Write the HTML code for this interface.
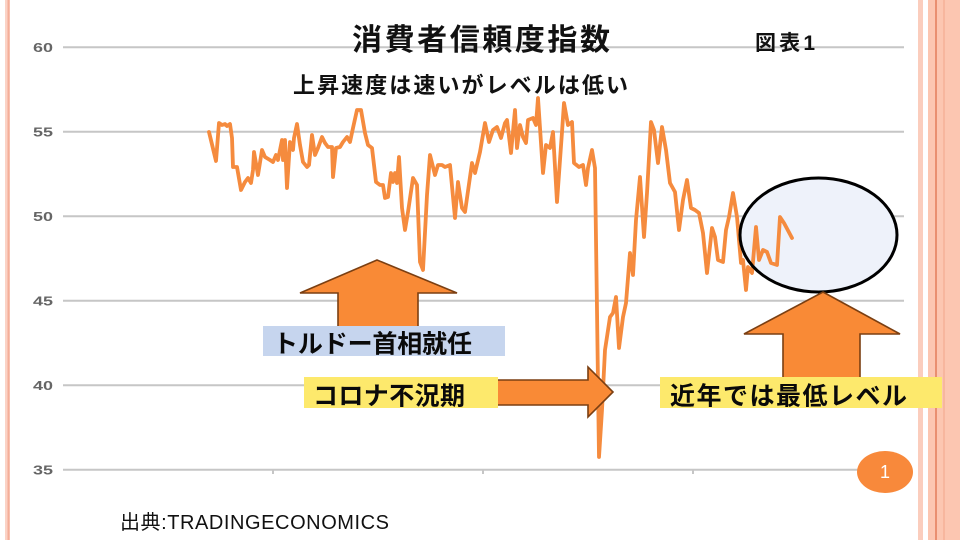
<!DOCTYPE html>
<html>
<head>
<meta charset="utf-8">
<style>
html,body{margin:0;padding:0;background:#fff;}
body{width:960px;height:540px;overflow:hidden;}
svg{display:block;}
</style>
</head>
<body>
<svg width="960" height="540" viewBox="0 0 960 540" xmlns="http://www.w3.org/2000/svg">
<defs>
<clipPath id="c1"><rect x="263" y="326" width="242" height="30"/></clipPath>
<clipPath id="c2"><rect x="304" y="377" width="194" height="31"/></clipPath>
<clipPath id="c3"><rect x="660" y="377" width="282" height="31"/></clipPath>
</defs>
<rect x="0" y="0" width="960" height="540" fill="#fff"/>
<!-- left border -->
<rect x="5" y="0" width="5" height="540" fill="#fbd3c6"/>
<rect x="7.5" y="0" width="2" height="540" fill="#f4ae98"/>
<!-- right strips -->
<rect x="918" y="0" width="5" height="540" fill="#fbcdbd"/>
<rect x="928" y="0" width="32" height="540" fill="#fcc6b1"/>
<rect x="935" y="0" width="2" height="540" fill="#e98f70"/>
<rect x="943" y="0" width="2" height="540" fill="#f7b69e"/>

<!-- gridlines -->
<g stroke="#c6c6c6" stroke-width="2">
<line x1="63" y1="47.3" x2="904" y2="47.3"/>
<line x1="63" y1="131.8" x2="904" y2="131.8"/>
<line x1="63" y1="216.3" x2="904" y2="216.3"/>
<line x1="63" y1="300.8" x2="904" y2="300.8"/>
<line x1="63" y1="385.3" x2="904" y2="385.3"/>
<line x1="63" y1="469.8" x2="904" y2="469.8"/>
<line x1="273" y1="470" x2="273" y2="474"/>
<line x1="483" y1="470" x2="483" y2="474"/>
<line x1="693" y1="470" x2="693" y2="474"/>
</g>
<!-- y labels -->
<g font-family="Liberation Sans, Arial, sans-serif" font-weight="bold" font-size="13" fill="#666" text-anchor="end">
<text x="53" y="52" textLength="20" lengthAdjust="spacingAndGlyphs">60</text>
<text x="53" y="136.5" textLength="20" lengthAdjust="spacingAndGlyphs">55</text>
<text x="53" y="221" textLength="20" lengthAdjust="spacingAndGlyphs">50</text>
<text x="53" y="305.5" textLength="20" lengthAdjust="spacingAndGlyphs">45</text>
<text x="53" y="390" textLength="20" lengthAdjust="spacingAndGlyphs">40</text>
<text x="53" y="474.5" textLength="20" lengthAdjust="spacingAndGlyphs">35</text>
</g>

<!-- ellipse fill -->
<ellipse cx="818.5" cy="235" rx="78.5" ry="57" fill="#eef2fa"/>

<!-- data line -->
<polyline fill="none" stroke="#f58b3e" stroke-width="3.8" stroke-linejoin="round" stroke-linecap="round" points="209,132 216,161 219,123 222,125 225,124 227,126 230,124 232,138 233,167 237,167 241,190 245,182 248,178 251,183 253,170 254,152 258,175 262,150 265,157 270,160 273,162 276,155 278,160 282,140 283,160 285,140 287,188 290,142 293,150 294,138 297,124 300,145 303,162 307,167 309,165 312,135 315,155 318,148 322,137 325,143 328,147 332,147 333,177 336,148 340,147 343,142 347,137 350,142 353,128 357,110 361,110 365,133 368,145 372,148 376,182 380,185 383,185 385,198 388,197 391,173 393,182 395,173 397,183 399,157 402,208 405,230 408,212 413,178 417,185 420,262 423,270 427,195 430,155 435,175 438,165 442,165 445,167 450,165 455,218 458,182 462,208 465,212 472,163 475,173 480,152 485,123 489,142 493,130 497,127 501,138 505,123 507,120 511,153 515,110 517,148 520,125 523,137 526,143 528,120 533,118 536,125 538,98 543,173 546,145 550,148 553,132 557,202 562,132 564,103 568,125 572,122 574,163 579,167 583,165 586,185 588,168 592,150 595,168 597,310 599,457 602,410 605,350 610,317 613,313 616,297 619,348 623,317 626,303 630,253 633,275 636,220 640,177 644,237 647,193 651,122 654,130 658,163 662,127 666,150 670,183 675,192 679,230 683,200 687,180 691,208 695,210 699,213 703,233 707,273 712,228 715,237 718,260 723,262 726,230 729,217 733,193 737,217 741,263 743,260 746,290 748,267 752,273 756,227 759,260 763,250 767,252 771,263 777,265 780,217 784,223 792,238"/>

<!-- ellipse stroke -->
<ellipse cx="818.5" cy="235" rx="78.5" ry="57" fill="none" stroke="#000" stroke-width="3"/>

<!-- titles -->
<g font-family="Liberation Sans, 'Noto Sans CJK JP', sans-serif" font-weight="bold" fill="#111">
<text x="352" y="50" font-size="30" textLength="258" lengthAdjust="spacing">消費者信頼度指数</text>
<text x="755" y="50" font-size="21" textLength="60" lengthAdjust="spacing">図表1</text>
<text x="293" y="93" font-size="22" textLength="335" lengthAdjust="spacing">上昇速度は速いがレベルは低い</text>
</g>

<!-- arrows -->
<g fill="#f98a36" stroke="#7b3f12" stroke-width="1.6" stroke-linejoin="miter">
<polygon points="377,260 457,293 418,293 418,327 338,327 338,293 300,293"/>
<polygon points="497,380 588,380 588,367 613,392 588,417 588,405 497,405"/>
<polygon points="823,292 900,334 860,334 860,378 783,378 783,334 744,334"/>
</g>

<!-- label boxes -->
<rect x="263" y="326" width="242" height="30" fill="#c6d5ee"/>
<rect x="304" y="377" width="194" height="31" fill="#fde96c"/>
<rect x="660" y="377" width="282" height="31" fill="#fde96c"/>
<g font-family="Liberation Sans, 'Noto Sans CJK JP', sans-serif" font-weight="bold" fill="#0a0a0a" font-size="25">
<text x="273" y="352.5" clip-path="url(#c1)" textLength="199" lengthAdjust="spacing">トルドー首相就任</text>
<text x="313" y="404.5" clip-path="url(#c2)" textLength="152" lengthAdjust="spacing">コロナ不況期</text>
<text x="670" y="404.5" clip-path="url(#c3)" textLength="237" lengthAdjust="spacing">近年では最低レベル</text>
</g>

<!-- page number -->
<ellipse cx="885" cy="472" rx="28" ry="21" fill="#f8893b"/>
<text x="885" y="478" font-family="Liberation Sans, Arial, sans-serif" font-size="18" fill="#fff" text-anchor="middle">1</text>

<!-- source -->
<text x="120" y="529" font-family="Liberation Sans, 'Noto Sans CJK JP', sans-serif" font-size="20" fill="#111" textLength="269" lengthAdjust="spacing">出典:TRADINGECONOMICS</text>
</svg>
</body>
</html>
